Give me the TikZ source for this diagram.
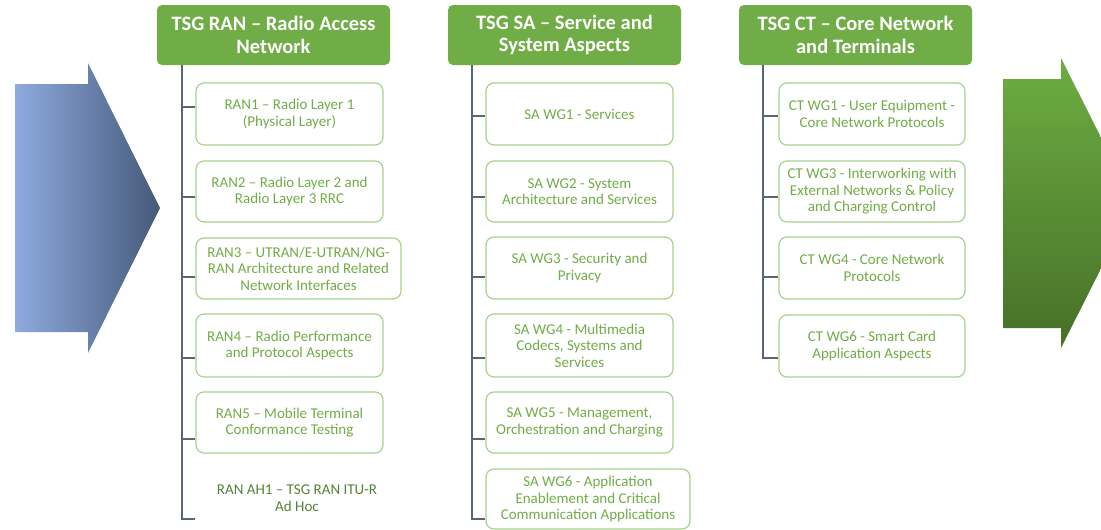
\documentclass[tikz,border=0pt]{standalone}
\usepackage{fontspec}
\setmainfont{Carlito}
\definecolor{hdrgreen}{HTML}{70AD47}
\definecolor{boxgreen}{HTML}{A9D18E}
\definecolor{txtgreen}{HTML}{70AD47}
\definecolor{darkgreen}{HTML}{548235}
\definecolor{linegray}{HTML}{596579}
\definecolor{blueL}{HTML}{8EAADE}
\definecolor{blueR}{HTML}{46597A}
\definecolor{greenT}{HTML}{6DAD42}
\definecolor{greenB}{HTML}{467028}
\tikzset{
  hdr/.style={fill=hdrgreen, rounded corners=5pt, text=white, font=\fontsize{20.5}{22.5}\selectfont\bfseries, align=center, inner sep=0pt},
  wg/.style={draw=boxgreen, line width=1.2pt, rounded corners=8pt, fill=white, text=txtgreen, font=\fontsize{15}{16.5}\selectfont, align=center, inner sep=0pt},
  trunk/.style={draw=linegray, line width=1.4pt},
}
\newcommand{\boxat}[7][wg]{\node[#1, minimum width={#5pt-#3pt}, minimum height={#6pt-#4pt}] (#2) at ({(#3+#5)/2},{(#4+#6)/2}) {#7};}
\begin{document}
\begin{tikzpicture}[x=1pt,y=-1pt]
\useasboundingbox (0,0) rectangle (1101,530);
\begin{scope}
\clip (0,0) rectangle (1101,530);
% left arrow
\shade[left color=blueL, right color=blueR] (15,84) -- (88,84) -- (88,63) -- (160,208) -- (88,353) -- (88,332) -- (15,332) -- cycle;
% right arrow
\shade[top color=greenT, bottom color=greenB] (1003,79) -- (1061,79) -- (1061,58) -- (1134,203) -- (1061,348) -- (1061,328) -- (1003,328) -- cycle;
\end{scope}
% headers
\boxat[hdr]{ranh}{157}{5}{390}{65}{TSG RAN – Radio Access\\Network}
\boxat[hdr]{sah}{448}{5}{681}{65}{TSG SA – Service and\\System Aspects}
\boxat[hdr]{cth}{739}{5}{972}{65}{TSG CT – Core Network\\and Terminals}
% RAN
\boxat{r1}{196}{83}{383}{145}{RAN1 – Radio Layer 1\\(Physical Layer)}
\boxat{r2}{196}{161}{383}{222}{RAN2 – Radio Layer 2 and\\Radio Layer 3 RRC}
\boxat{r3}{196}{238}{401}{299}{RAN3 – UTRAN/E-UTRAN/NG-\\RAN Architecture and Related\\Network Interfaces}
\boxat{r4}{196}{314}{383}{377}{RAN4 – Radio Performance\\and Protocol Aspects}
\boxat{r5}{196}{392}{383}{453}{RAN5 – Mobile Terminal\\Conformance Testing}
\node[align=center, text=darkgreen, font=\fontsize{15}{16.5}\selectfont, inner sep=0pt] (r6) at (297,498) {RAN AH1 – TSG RAN ITU-R\\Ad Hoc};
% SA
\boxat{s1}{486}{83}{673}{145}{SA WG1 - Services}
\boxat{s2}{486}{161}{673}{222}{SA WG2 - System\\Architecture and Services}
\boxat{s3}{486}{237}{673}{299}{SA WG3 - Security and\\Privacy}
\boxat{s4}{486}{314}{673}{377}{SA WG4 - Multimedia\\Codecs, Systems and\\Services}
\boxat{s5}{486}{392}{673}{453}{SA WG5 - Management,\\Orchestration and Charging}
\boxat{s6}{486}{469}{690}{529}{SA WG6 - Application\\Enablement and Critical\\Communication Applications}
% CT
\boxat{c1}{779}{83}{965}{145}{CT WG1 - User Equipment -\\Core Network Protocols}
\boxat{c2}{779}{161}{965}{222}{CT WG3 - Interworking with\\External Networks \& Policy\\and Charging Control}
\boxat{c3}{779}{237}{965}{299}{CT WG4 - Core Network\\Protocols}
\boxat{c4}{779}{315}{965}{377}{CT WG6 - Smart Card\\Application Aspects}
% trunks
\coordinate (rant) at (182,519);
\coordinate (r6end) at (195,519);
\draw[trunk] (ranh.south -| rant) -- (rant) -- (r6end);
\foreach \n/\y in {r1/107,r2/197,r3/277,r4/358,r5/439}{
  \draw[trunk] (rant |- 0,\y) -- (\n.west |- 0,\y);
}
\coordinate (sat) at (472,519);
\draw[trunk] (sah.south -| sat) -- (sat) -- (s6.west |- sat);
\foreach \n/\y in {s1/116,s2/197,s3/277,s4/358,s5/439}{
  \draw[trunk] (sat |- 0,\y) -- (\n.west |- 0,\y);
}
\coordinate (ctt) at (763,358);
\draw[trunk] (cth.south -| ctt) -- (ctt) -- (c4.west |- ctt);
\foreach \n/\y in {c1/116,c2/197,c3/277}{
  \draw[trunk] (ctt |- 0,\y) -- (\n.west |- 0,\y);
}
\end{tikzpicture}
\end{document}
